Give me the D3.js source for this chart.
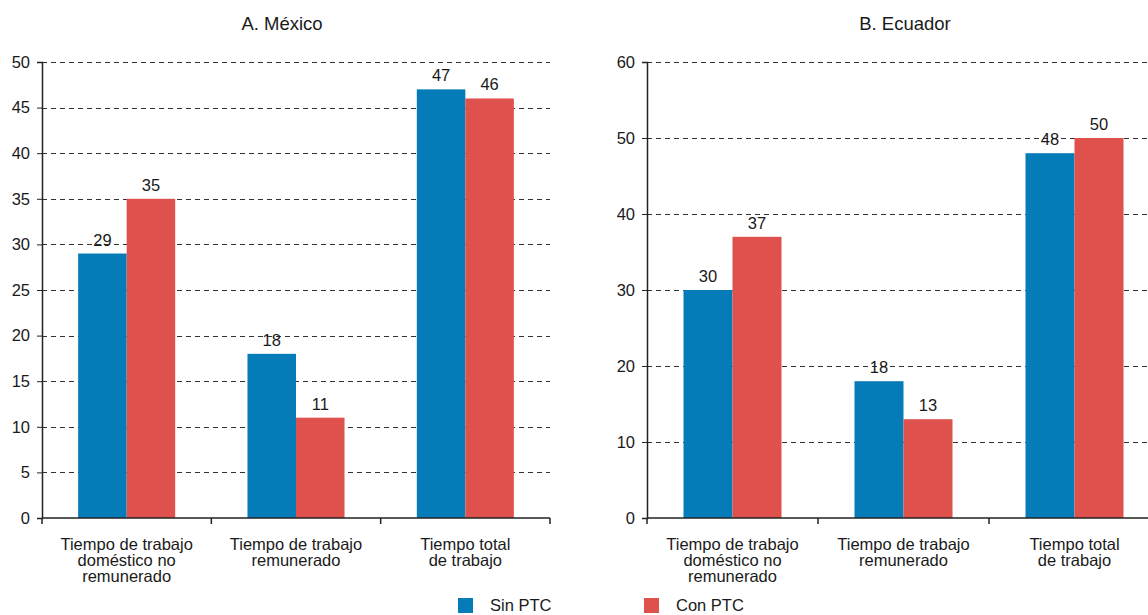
<!DOCTYPE html>
<html>
<head>
<meta charset="utf-8">
<script src="https://cdn.jsdelivr.net/npm/d3@7"></script>
<style>
  body { margin: 0; background: #fff; }
  svg text { font-family: "Liberation Sans", Arial, Helvetica, sans-serif; fill: #1a1a1a; }
</style>
</head>
<body>
<svg width="1148" height="615"></svg>
<script>
const categories = [
  ["Tiempo de trabajo", "doméstico no", "remunerado"],
  ["Tiempo de trabajo", "remunerado"],
  ["Tiempo total", "de trabajo"]
]
const series = ["Sin PTC", "Con PTC"]
const colors = ["#057cb8", "#df514d"]

const mexicoSin = [29, 18, 47]
const mexicoCon = [35, 11, 46]
const ecuadorSin = [30, 18, 48]
const ecuadorCon = [37, 13, 50]

const mexicoTicks = [0, 5, 10, 15, 20, 25, 30, 35, 40, 45, 50]
const ecuadorTicks = [0, 10, 20, 30, 40, 50, 60]

const svg = d3.select("svg")
const fs = "16.5px"

const panels = [
  { title: "A. México", sin: mexicoSin, con: mexicoCon, ticks: mexicoTicks, max: 50, x0: 42, x1: 550, tx: 282 },
  { title: "B. Ecuador", sin: ecuadorSin, con: ecuadorCon, ticks: ecuadorTicks, max: 60, x0: 647, x1: 1160, tx: 905 }
]

const yBottom = 518, yTop = 62

panels.forEach(p => drawPanel(p))

function drawPanel(p){
  const g = svg.append("g")
  const idx = d3.range(categories.length)

  const x = d3.scaleBand().domain(idx).range([p.x0, p.x1])
  const xs = d3.scaleBand().domain([0, 1]).range([0, x.bandwidth()]).paddingInner(0).paddingOuter(0.745)
  const y = d3.scaleLinear().domain([0, p.max]).range([yBottom, yTop])

  // title
  g.append("text")
    .attr("x", p.tx)
    .attr("y", 30)
    .attr("text-anchor", "middle")
    .style("font-size", "18.5px")
    .text(p.title)

  // dashed grid
  g.selectAll(".grid")
    .data(p.ticks.filter(t => t > 0))
    .enter()
    .append("line")
    .attr("x1", p.x0)
    .attr("x2", p.x1)
    .attr("y1", d => Math.round(y(d)) + 0.5)
    .attr("y2", d => Math.round(y(d)) + 0.5)
    .attr("stroke", "#333")
    .attr("stroke-width", 1)
    .attr("stroke-dasharray", "5,4")

  // bars
  const rows = idx.map(i => [p.sin[i], p.con[i]])
  const grp = g.selectAll(".cat")
    .data(rows)
    .enter()
    .append("g")
    .attr("transform", (d, i) => `translate(${x(i)},0)`)

  grp.selectAll("rect")
    .data(d => d)
    .enter()
    .append("rect")
    .attr("x", (d, j) => xs(j))
    .attr("width", xs.bandwidth())
    .attr("y", d => y(d))
    .attr("height", d => yBottom - y(d))
    .attr("fill", (d, j) => colors[j])

  grp.selectAll(".lbl")
    .data(d => d)
    .enter()
    .append("text")
    .attr("x", (d, j) => xs(j) + xs.bandwidth() / 2)
    .attr("y", d => y(d) - 8)
    .attr("text-anchor", "middle")
    .style("font-size", fs)
    .text(d => d)

  // y axis
  const yAxis = d3.axisLeft(y).tickValues(p.ticks).tickSize(5).tickPadding(7).tickFormat(d3.format("d"))
  const ya = g.append("g").attr("transform", `translate(${p.x0},0)`).call(yAxis)
  ya.select(".domain").attr("stroke", "#222").attr("stroke-width", 1.5)
  ya.selectAll(".tick line").attr("stroke", "#222")
  ya.selectAll(".tick text").style("font-size", fs).attr("fill", "#1a1a1a")
    .style("font-family", '"Liberation Sans", Arial, sans-serif')

  // x axis
  g.append("line")
    .attr("x1", p.x0).attr("x2", p.x1)
    .attr("y1", yBottom).attr("y2", yBottom)
    .attr("stroke", "#222").attr("stroke-width", 1.5)
  const bounds = idx.map(i => x(i)).concat([p.x1])
  g.selectAll(".xt")
    .data(bounds)
    .enter()
    .append("line")
    .attr("x1", d => d).attr("x2", d => d)
    .attr("y1", yBottom).attr("y2", yBottom + 6)
    .attr("stroke", "#222").attr("stroke-width", 1.5)

  // category labels
  const cl = g.selectAll(".cl")
    .data(categories)
    .enter()
    .append("text")
    .attr("text-anchor", "middle")
    .style("font-size", fs)
  cl.selectAll("tspan")
    .data((d, i) => d.map(s => ({ s, i })))
    .enter()
    .append("tspan")
    .attr("x", d => x(d.i) + x.bandwidth() / 2)
    .attr("y", (d, k) => 550 + k * 16)
    .text(d => d.s)
}

// legend
const legend = svg.append("g")
const legX = [458, 644]
series.forEach((s, i) => {
  legend.append("rect")
    .attr("x", legX[i]).attr("y", 598)
    .attr("width", 15).attr("height", 15)
    .attr("fill", colors[i])
  legend.append("text")
    .attr("x", legX[i] + 32).attr("y", 611)
    .style("font-size", fs)
    .text(s)
})
</script>
</body>
</html>
